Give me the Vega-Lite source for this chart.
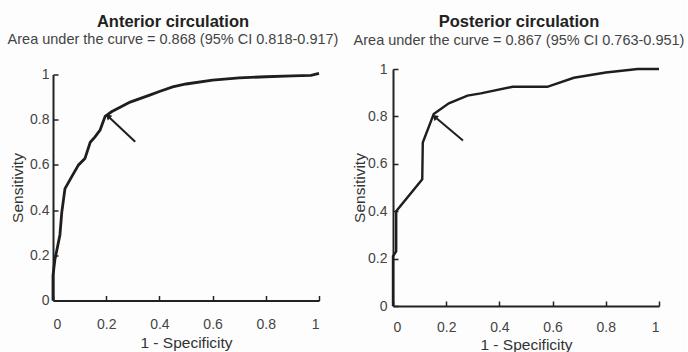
{
  "$schema": "https://vega.github.io/schema/vega-lite/v6.json",
  "background": "#fdfdfd",
  "padding": {"left": 7, "top": 13, "right": 2, "bottom": 0},
  "bounds": "flush",
  "center": true,
  "spacing": 74,
  "datasets": {
    "ant": [
      {"fpr": 0, "tpr": 0},
      {"fpr": 0, "tpr": 0.11},
      {"fpr": 0.007, "tpr": 0.18},
      {"fpr": 0.026, "tpr": 0.29},
      {"fpr": 0.033, "tpr": 0.39},
      {"fpr": 0.045, "tpr": 0.495},
      {"fpr": 0.07, "tpr": 0.547},
      {"fpr": 0.096, "tpr": 0.6},
      {"fpr": 0.12, "tpr": 0.628},
      {"fpr": 0.14, "tpr": 0.7},
      {"fpr": 0.158, "tpr": 0.724},
      {"fpr": 0.177, "tpr": 0.754},
      {"fpr": 0.196, "tpr": 0.815},
      {"fpr": 0.22, "tpr": 0.835},
      {"fpr": 0.29, "tpr": 0.878},
      {"fpr": 0.366, "tpr": 0.91},
      {"fpr": 0.4, "tpr": 0.925},
      {"fpr": 0.45, "tpr": 0.945},
      {"fpr": 0.5, "tpr": 0.958},
      {"fpr": 0.6, "tpr": 0.975},
      {"fpr": 0.7, "tpr": 0.985},
      {"fpr": 0.8, "tpr": 0.99},
      {"fpr": 0.9, "tpr": 0.994},
      {"fpr": 0.97, "tpr": 0.996},
      {"fpr": 1, "tpr": 1.005}
    ],
    "post": [
      {"fpr": 0, "tpr": 0},
      {"fpr": 0, "tpr": 0.21},
      {"fpr": 0.012, "tpr": 0.23},
      {"fpr": 0.012, "tpr": 0.4},
      {"fpr": 0.11, "tpr": 0.535},
      {"fpr": 0.112, "tpr": 0.69},
      {"fpr": 0.153, "tpr": 0.81},
      {"fpr": 0.21, "tpr": 0.855},
      {"fpr": 0.28, "tpr": 0.888},
      {"fpr": 0.33, "tpr": 0.897},
      {"fpr": 0.45, "tpr": 0.925},
      {"fpr": 0.58, "tpr": 0.925},
      {"fpr": 0.68, "tpr": 0.963},
      {"fpr": 0.8, "tpr": 0.985},
      {"fpr": 0.92, "tpr": 1.0},
      {"fpr": 1, "tpr": 1.0}
    ],
    "antArrow": [{"x": 0.309, "y": 0.702, "x2": 0.209, "y2": 0.813}],
    "postArrow": [{"x": 0.263, "y": 0.698, "x2": 0.159, "y2": 0.796}]
  },
  "config": {
    "font": "Liberation Sans",
    "view": {"stroke": null},
    "axis": {
      "grid": false,
      "domainColor": "#222",
      "domainWidth": 2,
      "tickColor": "#222",
      "tickWidth": 1.5,
      "tickSize": -5,
      "labelFont": "Liberation Sans",
      "labelFontSize": 14,
      "labelColor": "#444",
      "titleFont": "Liberation Sans",
      "titleFontSize": 15.5,
      "titleFontWeight": "normal",
      "titleColor": "#333",
      "format": "~g"
    },
    "axisX": {"labelPadding": 22, "titlePadding": 4},
    "axisY": {"labelPadding": 9, "titlePadding": 4},
    "title": {
      "font": "Liberation Sans",
      "fontSize": 16.5,
      "fontWeight": "bold",
      "color": "#222",
      "subtitleFont": "Liberation Sans",
      "subtitleFontSize": 14.5,
      "subtitleColor": "#444",
      "subtitlePadding": 3,
      "anchor": "middle"
    }
  },
  "hconcat": [
    {
      "width": 266,
      "height": 226,
      "title": {"text": "Anterior circulation", "subtitle": "Area under the curve = 0.868 (95% CI 0.818-0.917)", "offset": 21, "dx": -13},
      "layer": [
        {
          "data": {"name": "ant"},
          "mark": {"type": "line", "color": "#1e1e1e", "strokeWidth": 2.8},
          "encoding": {
            "x": {"field": "fpr", "type": "quantitative", "scale": {"domain": [0, 1], "nice": false}, "axis": {"values": [0, 0.2, 0.4, 0.6, 0.8, 1], "title": "1 - Specificity"}},
            "y": {"field": "tpr", "type": "quantitative", "scale": {"domain": [0, 1], "nice": false}, "axis": {"values": [0, 0.2, 0.4, 0.6, 0.8, 1], "title": "Sensitivity"}},
            "order": {"value": null}
          }
        },
        {
          "data": {"name": "antArrow"},
          "mark": {"type": "rule", "color": "#1e1e1e", "strokeWidth": 2},
          "encoding": {
            "x": {"field": "x", "type": "quantitative"},
            "y": {"field": "y", "type": "quantitative"},
            "x2": {"field": "x2"},
            "y2": {"field": "y2"}
          }
        },
        {
          "data": {"name": "antArrow"},
          "mark": {"type": "point", "shape": "triangle", "filled": true, "color": "#1e1e1e", "size": 45, "angle": 313, "opacity": 1},
          "encoding": {
            "x": {"field": "x2", "type": "quantitative"},
            "y": {"field": "y2", "type": "quantitative"}
          }
        }
      ]
    },
    {
      "width": 266,
      "height": 237,
      "title": {"text": "Posterior circulation", "subtitle": "Area under the curve = 0.867 (95% CI 0.763-0.951)", "offset": 15, "dx": -7},
      "layer": [
        {
          "data": {"name": "post"},
          "mark": {"type": "line", "color": "#1e1e1e", "strokeWidth": 2.4},
          "encoding": {
            "x": {"field": "fpr", "type": "quantitative", "scale": {"domain": [0, 1], "nice": false}, "axis": {"values": [0, 0.2, 0.4, 0.6, 0.8, 1], "title": "1 - Specificity", "labelPadding": 19, "titlePadding": 3}},
            "y": {"field": "tpr", "type": "quantitative", "scale": {"domain": [0, 1], "nice": false}, "axis": {"values": [0, 0.2, 0.4, 0.6, 0.8, 1], "title": "Sensitivity", "labelPadding": 11, "titlePadding": 0}},
            "order": {"value": null}
          }
        },
        {
          "data": {"name": "postArrow"},
          "mark": {"type": "rule", "color": "#1e1e1e", "strokeWidth": 2},
          "encoding": {
            "x": {"field": "x", "type": "quantitative"},
            "y": {"field": "y", "type": "quantitative"},
            "x2": {"field": "x2"},
            "y2": {"field": "y2"}
          }
        },
        {
          "data": {"name": "postArrow"},
          "mark": {"type": "point", "shape": "triangle", "filled": true, "color": "#1e1e1e", "size": 45, "angle": 310, "opacity": 1},
          "encoding": {
            "x": {"field": "x2", "type": "quantitative"},
            "y": {"field": "y2", "type": "quantitative"}
          }
        }
      ]
    }
  ]
}
